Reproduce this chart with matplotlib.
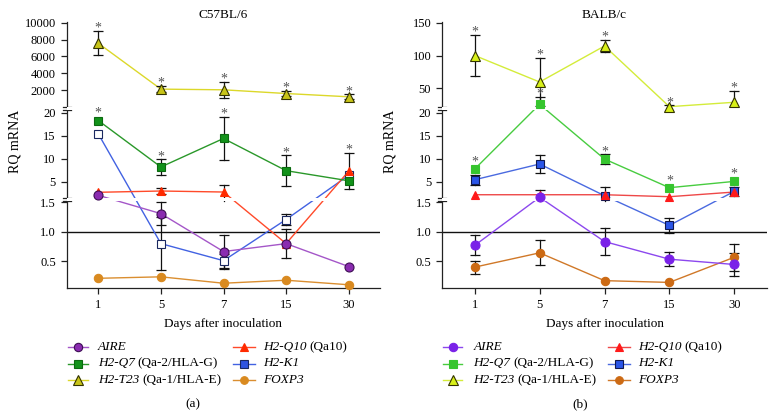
import numpy as np
import matplotlib
matplotlib.use('Agg')
import matplotlib.pyplot as plt
from matplotlib.lines import Line2D
from matplotlib.patches import Rectangle

plt.rcParams['font.family'] = ['Liberation Serif', 'DejaVu Serif']

W, H = 775, 418
fig = plt.figure(figsize=(W / 100, H / 100), dpi=100)

# ---------------- data ----------------
days = ['1', '5', '7', '15', '30']
genes = ['AIRE', 'H2-Q7', 'H2-T23', 'H2-Q10', 'H2-K1', 'FOXP3']
legend_extra = ['', '(Qa-2/HLA-G)', '(Qa-1/HLA-E)', '(Qa10)', '', '']

# Panel (a) C57BL/6
a_aire = [2.04, 1.31, 0.665, 0.80, 0.41]
a_aire_err = [0, 0.20, 0.29, 0.25, 0]
a_q7 = [18.3, 8.2, 14.4, 7.4, 5.2]
a_q7_err = [0, 1.65, 4.7, 3.3, 0]
a_t23 = [7560, 2120, 2040, 1600, 1210]
a_t23_err = [1450, 350, 950, 350, 300]
a_q10 = [2.7, 2.98, 2.76, 0.80, 7.3]
a_q10_err = [0, 0.75, 1.5, 0, 3.9]
a_k1 = [15.4, 0.80, 0.51, 1.21, 6.4]
a_k1_err = [0, 0.45, 0.12, 0.10, 0]
a_foxp3 = [0.21, 0.235, 0.126, 0.177, 0.10]
a_foxp3_err = [0, 0, 0, 0, 0]
a_stars = {'H2-T23': [0, 1, 2, 3, 4], 'H2-Q7': [0, 1, 2, 3], 'H2-Q10': [4]}

# Panel (b) BALB/c
b_aire = [0.77, 1.62, 0.835, 0.535, 0.445]
b_aire_err = [0.17, 1.6, 0.23, 0.12, 0.20]
b_q7 = [7.76, 25.6, 9.93, 3.7, 5.07]
b_q7_err = [0, 11, 1.0, 0, 0]
b_t23 = [100, 59.6, 114.5, 22.0, 28.7]
b_t23_err = [31, 37, 9, 2, 17]
b_q10 = [2.17, 2.17, 2.17, 1.74, 2.76]
b_q10_err = [0, 0, 0, 0, 0]
b_k1 = [5.43, 8.85, 1.96, 1.11, 2.9]
b_k1_err = [1.1, 2.0, 1.8, 0.13, 1.0]
b_foxp3 = [0.40, 0.643, 0.17, 0.14, 0.568]
b_foxp3_err = [0.11, 0.21, 0, 0, 0.23]
b_stars = {'H2-T23': [0, 1, 2, 3, 4], 'H2-Q7': [0, 1, 2, 3, 4]}

a_yticks = [0.5, 1.0, 1.5, 5, 10, 15, 20, 2000, 4000, 6000, 8000, 10000]
b_yticks = [0.5, 1.0, 1.5, 5, 10, 15, 20, 50, 100, 150]
a_yticklabels = ['0.5', '1.0', '1.5', '5', '10', '15', '20', '2000', '4000', '6000', '8000', '10000']
b_yticklabels = ['0.5', '1.0', '1.5', '5', '10', '15', '20', '50', '100', '150']

# ---------------- styles ----------------
a_styles = {
    'AIRE':   dict(lc='#A456C8', m='o', fc='#8A2BB0', ec='#3E0E55', ms=6.5, lfc='#8A2BB0'),
    'H2-Q7':  dict(lc='#2A982A', m='s', fc='#12921A', ec='#0B6A10', ms=6, lfc='#12921A'),
    'H2-T23': dict(lc='#DCD82A', m='^', fc='#C8C418', ec='#333300', ms=7, lfc='#C8C418'),
    'H2-Q10': dict(lc='#FF4A2A', m='^', fc='#FF2A00', ec='#FF2A00', ms=6, lfc='#FF2A00'),
    'H2-K1':  dict(lc='#4262E2', m='s', fc='white', ec='#1A2860', ms=6, lfc='#2F54E0'),
    'FOXP3':  dict(lc='#DA8E30', m='o', fc='#D98A20', ec='#D98A20', ms=6, lfc='#D98A20'),
}
b_styles = {
    'AIRE':   dict(lc='#8C48EE', m='o', fc='#7A22E8', ec='#7A22E8', ms=6.5, lfc='#7A22E8'),
    'H2-Q7':  dict(lc='#48CC40', m='s', fc='#36C52E', ec='#36C52E', ms=6, lfc='#36C52E'),
    'H2-T23': dict(lc='#D4EC3A', m='^', fc='#D8F018', ec='#333300', ms=7, lfc='#D8F018'),
    'H2-Q10': dict(lc='#EE4848', m='^', fc='#FF1A1A', ec='#FF1A1A', ms=6, lfc='#FF1A1A'),
    'H2-K1':  dict(lc='#4A6AE0', m='s', fc='#2A55E8', ec='#101850', ms=6, lfc='#2A55E8'),
    'FOXP3':  dict(lc='#D07828', m='o', fc='#CC6A14', ec='#CC6A14', ms=6, lfc='#CC6A14'),
}
draw_order = ['FOXP3', 'H2-K1', 'H2-Q10', 'AIRE', 'H2-Q7', 'H2-T23']

# ---------------- broken-axis scale ----------------
PX_TOP, PX_BOT = 22.0, 287.7
U_TOT = PX_BOT - PX_TOP
# (value_lo, value_hi, u_lo, u_hi) ; u = pixels above the x axis
a_segs = [(0.05, 1.525, 0.0, 86.7), (1.525, 20.59, 90.0, 177.7), (0.0, 10083, 180.7, 265.7)]
b_segs = [(0.05, 1.525, 0.0, 86.7), (1.525, 20.59, 90.0, 177.7), (21.5, 151.07, 180.7, 265.7)]


def build_scale(segs):
    xp, fp = [], []
    prev = -np.inf
    for vlo, vhi, ulo, uhi in segs:
        slope = (uhi - ulo) / (vhi - vlo)
        a = max(vlo, prev + 1e-4)
        xp += [a, vhi]
        fp += [ulo + (a - vlo) * slope, uhi]
        prev = vhi
    xp = np.array(xp)
    fp = np.array(fp)
    return (lambda v: np.interp(v, xp, fp)), (lambda u: np.interp(u, fp, xp))


def find_seg(segs, v):
    for s in segs[:-1]:
        if v <= s[1]:
            return s
    return segs[-1]


def draw_panel(x0, x1, segs, series, errs, styles, stars, yticks, yticklabels, title):
    ax = fig.add_axes([x0 / W, 1 - PX_BOT / H, (x1 - x0) / W, U_TOT / H])
    fwd, inv = build_scale(segs)
    ax.set_yscale('function', functions=(fwd, inv))
    ax.set_ylim(segs[0][0], segs[-1][1])
    ax.set_xlim(-0.5, 4.5)
    x = np.arange(len(days))

    for g in draw_order:
        st = styles[g]
        vals = np.array(series[g], dtype=float)
        err = np.array(errs[g], dtype=float)
        ax.plot(x, vals, color=st['lc'], lw=1.0, zorder=2)
        for xi, v, e in zip(x, vals, err):
            if e <= 0:
                continue
            s = find_seg(segs, v)
            lo, hi = max(v - e, s[0]), min(v + e, s[1])
            ax.plot([xi, xi], [lo, hi], color='#111111', lw=0.9, zorder=2.5)
            if v - e >= s[0]:
                ax.plot([xi], [lo], marker='_', ms=7, mew=0.9, color='#111111', zorder=2.5)
            if v + e <= s[1]:
                ax.plot([xi], [hi], marker='_', ms=7, mew=0.9, color='#111111', zorder=2.5)
        ax.plot(x, vals, ls='none', marker=st['m'], ms=st['ms'], mfc=st['fc'],
                mec=st['ec'], mew=0.8, zorder=4, clip_on=False)
        for j in stars.get(g, []):
            v, e = vals[j], err[j]
            s = find_seg(segs, v)
            top = min(v + e, s[1]) if e > 0 else v
            ax.annotate('*', xy=(x[j], top), xytext=(0, -0.6 if e > 0 else 2.6),
                        textcoords='offset points', ha='center', va='baseline',
                        fontsize=10, color='#555555', zorder=5)

    ax.axhline(1.0, color='#111111', lw=1.0, zorder=1.5)

    # gaps of the broken axis
    for (u0, u1) in [(segs[0][3], segs[1][2]), (segs[1][3], segs[2][2])]:
        ax.add_patch(Rectangle((0, u0 / U_TOT), 1, (u1 - u0) / U_TOT,
                               transform=ax.transAxes, fc='white', ec='none',
                               zorder=3, clip_on=False))

    # left spine in pieces, with break marks
    for spine in ['left', 'top', 'right']:
        ax.spines[spine].set_visible(False)
    ax.spines['bottom'].set_color('#222222')
    ax.spines['bottom'].set_linewidth(0.9)
    dx = 4.0 / (x1 - x0)
    for k, (_, _, u0, u1) in enumerate(segs):
        ax.add_line(Line2D([0, 0], [u0 / U_TOT, u1 / U_TOT], transform=ax.transAxes,
                           color='#222222', lw=0.9, clip_on=False))
        if k > 0:
            ax.add_line(Line2D([-dx, dx], [u0 / U_TOT] * 2, transform=ax.transAxes,
                               color='#222222', lw=0.9, clip_on=False))
        if k < len(segs) - 1:
            ax.add_line(Line2D([-dx, dx], [u1 / U_TOT] * 2, transform=ax.transAxes,
                               color='#222222', lw=0.9, clip_on=False))

    ax.set_yticks(yticks)
    ax.set_yticklabels(yticklabels)
    ax.minorticks_off()
    ax.set_xticks(x)
    ax.set_xticklabels(days)
    ax.tick_params(axis='both', direction='out', length=4, width=0.9,
                   color='#222222', labelsize=9)
    ax.tick_params(axis='y', pad=4)
    ax.tick_params(axis='x', pad=4)
    ax.set_xlabel('Days after inoculation', fontsize=9.5, labelpad=5)

    cx = (x0 + x1) / 2
    fig.text(cx / W, 1 - 15 / H, title, ha='center', va='center', fontsize=9.5)
    fig.text((x0 - 52) / W, 1 - 141 / H, 'RQ mRNA', rotation=90, ha='center',
             va='center', fontsize=10)
    return ax


renderer = fig.canvas.get_renderer()


def draw_legend(styles, cols, rows):
    for k, g in enumerate(genes):
        hx0, hx1, tx = cols[k // 3]
        y = 1 - rows[k % 3] / H
        st = styles[g]
        fig.add_artist(Line2D([hx0 / W, hx1 / W], [y, y], transform=fig.transFigure,
                              color=st['lc'], lw=1.0))
        fig.add_artist(Line2D([(hx0 + hx1) / 2 / W], [y], transform=fig.transFigure,
                              marker=st['m'], ms=st['ms'] - 0.5, mfc=st['lfc'],
                              mec=st['ec'], mew=0.8, ls='none'))
        t = fig.text(tx / W, y, g, ha='left', va='center', fontsize=9.5, fontstyle='italic')
        if legend_extra[k]:
            bb = t.get_window_extent(renderer)
            fig.text((bb.x1 + 3) / W, y, legend_extra[k], ha='left', va='center',
                     fontsize=9.5)


a_series = dict(zip(genes, [a_aire, a_q7, a_t23, a_q10, a_k1, a_foxp3]))
a_errs = dict(zip(genes, [a_aire_err, a_q7_err, a_t23_err, a_q10_err, a_k1_err, a_foxp3_err]))
b_series = dict(zip(genes, [b_aire, b_q7, b_t23, b_q10, b_k1, b_foxp3]))
b_errs = dict(zip(genes, [b_aire_err, b_q7_err, b_t23_err, b_q10_err, b_k1_err, b_foxp3_err]))

draw_panel(67.0, 380.0, a_segs, a_series, a_errs, a_styles, a_stars,
           a_yticks, a_yticklabels, 'C57BL/6')
draw_panel(442.3, 766.7, b_segs, b_series, b_errs, b_styles, b_stars,
           b_yticks, b_yticklabels, 'BALB/c')

legend_rows = [347.0, 363.5, 380.0]
draw_legend(a_styles, [(68, 88, 97.7), (233, 255, 263.3)], legend_rows)
draw_legend(b_styles, [(443, 462, 473.3), (608, 630, 638)], legend_rows)

fig.text(192.7 / W, 1 - 404 / H, '(a)', ha='center', va='center', fontsize=9.5)
fig.text(580 / W, 1 - 404 / H, '(b)', ha='center', va='center', fontsize=9.5)

fig.savefig('out.png', dpi=100)
